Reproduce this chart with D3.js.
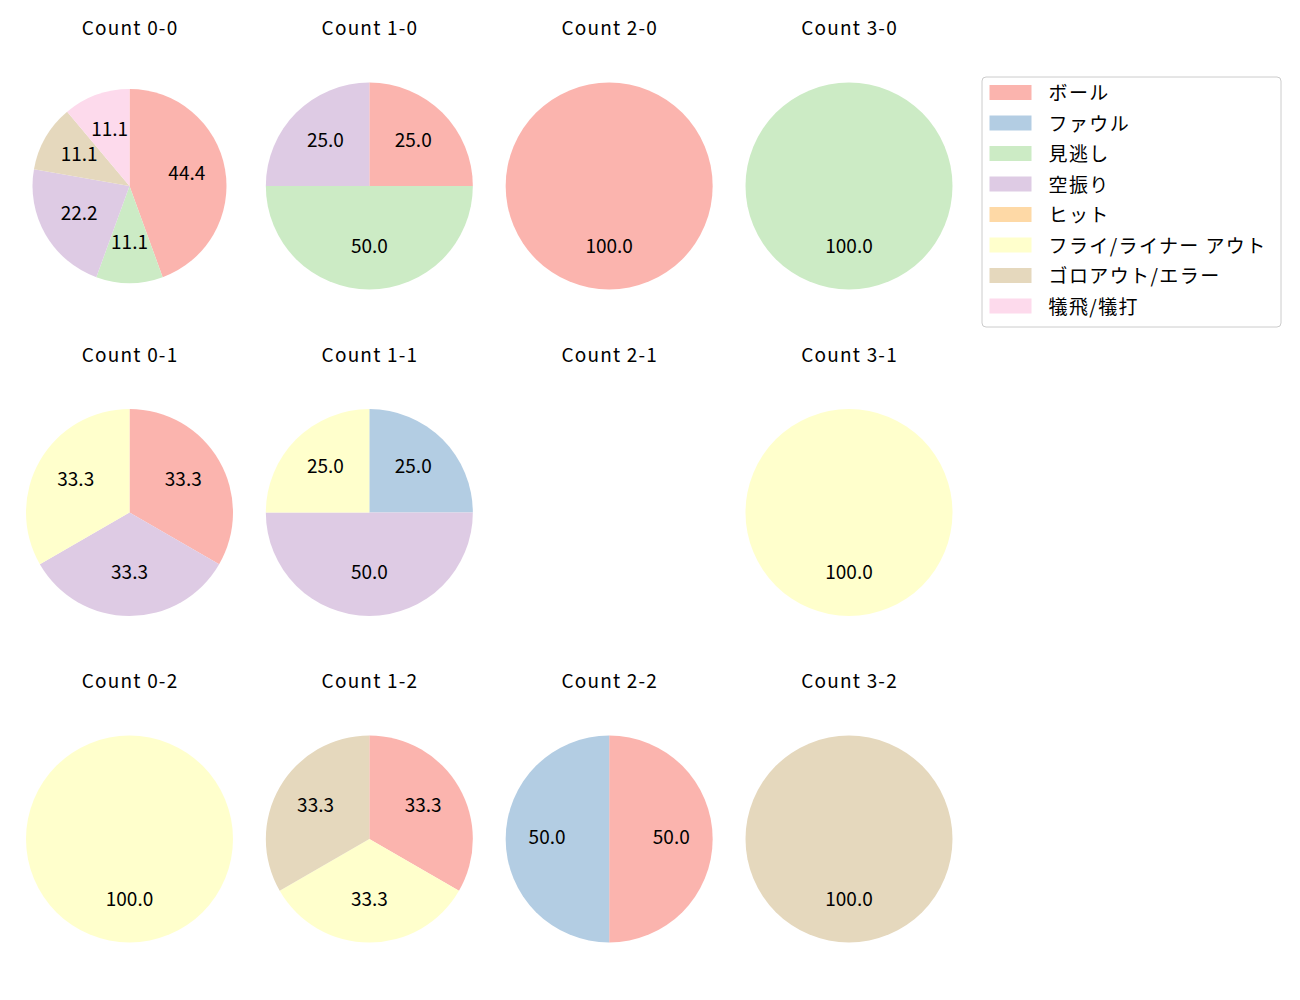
<!DOCTYPE html>
<html><head><meta charset="utf-8">
<script src="https://cdn.jsdelivr.net/npm/d3@7"></script>
<style>body{margin:0;background:#fff;}svg{display:block;font-family:"Noto Sans CJK JP","Noto Sans",sans-serif;}</style>
</head><body>
<script>
const categories = ["ボール","ファウル","見逃し","空振り","ヒット","フライ/ライナー アウト","ゴロアウト/エラー","犠飛/犠打"];
const colors = ["#fbb4ae","#b3cde3","#ccebc5","#decbe4","#fed9a6","#ffffcc","#e5d8bd","#fddaec"];
const titles = ["Count 0-0","Count 1-0","Count 2-0","Count 3-0",
                "Count 0-1","Count 1-1","Count 2-1","Count 3-1",
                "Count 0-2","Count 1-2","Count 2-2","Count 3-2"];
// counts per category (order of categories) per panel
const c00 = [4,0,1,2,0,0,1,1];
const c10 = [1,0,2,1,0,0,0,0];
const c20 = [1,0,0,0,0,0,0,0];
const c30 = [0,0,1,0,0,0,0,0];
const c01 = [1,0,0,1,0,1,0,0];
const c11 = [0,1,0,2,0,1,0,0];
const c21 = [0,0,0,0,0,0,0,0];
const c31 = [0,0,0,0,0,1,0,0];
const c02 = [0,0,0,0,0,1,0,0];
const c12 = [1,0,0,0,0,1,1,0];
const c22 = [1,1,0,0,0,0,0,0];
const c32 = [0,0,0,0,0,0,1,0];
const panels = [c00,c10,c20,c30,c01,c11,c21,c31,c02,c12,c22,c32];

const W = 1300, H = 1000;
const svg = d3.select("body").append("svg").attr("width",W).attr("height",H);
const colX = d3.scalePoint().domain([0,1,2,3]).range([129.5, 849]);
const rowY = d3.scalePoint().domain([0,1,2]).range([186, 839]);
const color = d3.scaleOrdinal().domain(categories).range(colors);
const FS = 19;

panels.forEach((vals, i) => {
  const col = i % 4, row = Math.floor(i / 4);
  const cx = colX(col), cy = rowY(row);
  const r = i === 0 ? 97 : 103.5;
  const g = svg.append("g").attr("transform", `translate(${cx},${cy})`);
  svg.append("text").attr("x", cx + 0.6).attr("y", cy - 159.5).attr("text-anchor","middle")
     .attr("dominant-baseline","central").attr("font-size", FS).attr("letter-spacing", 1.2)
     .attr("fill","#000").text(titles[i]);
  const total = d3.sum(vals);
  if (total === 0) return;
  const data = categories.map((c, k) => ({c, v: vals[k]})).filter(d => d.v > 0);
  const arcs = d3.pie().sort(null).value(d => d.v).startAngle(0).endAngle(2*Math.PI)(data);
  const arc = d3.arc().innerRadius(0).outerRadius(r);
  g.selectAll("path").data(arcs).join("path").attr("d", arc).attr("fill", d => color(d.data.c));
  g.selectAll("text").data(arcs).join("text")
    .attr("x", d => Math.sin((d.startAngle + d.endAngle)/2) * 0.6 * r)
    .attr("y", d => -Math.cos((d.startAngle + d.endAngle)/2) * 0.6 * r - 4)
    .attr("text-anchor","middle").attr("dominant-baseline","central")
    .attr("font-size", FS).attr("fill","#000")
    .text(d => (d.data.v / total * 100).toFixed(1));
});

// legend
const lg = svg.append("g").attr("transform","translate(982,77)");
lg.append("rect").attr("x",0).attr("y",0).attr("width",299).attr("height",250).attr("rx",4)
  .attr("fill","#fff").attr("fill-opacity",0.8).attr("stroke","#cccccc");
const ly = d3.scalePoint().domain(categories).range([15.5, 229]);
categories.forEach(c => {
  lg.append("rect").attr("x",7.5).attr("y",ly(c)-7.5).attr("width",42).attr("height",15).attr("fill",color(c));
  lg.append("text").attr("x",66.5).attr("y",ly(c)-1).attr("dominant-baseline","central")
    .attr("font-size",FS).attr("letter-spacing",1.4).attr("fill","#000").text(c);
});
</script>
</body></html>
